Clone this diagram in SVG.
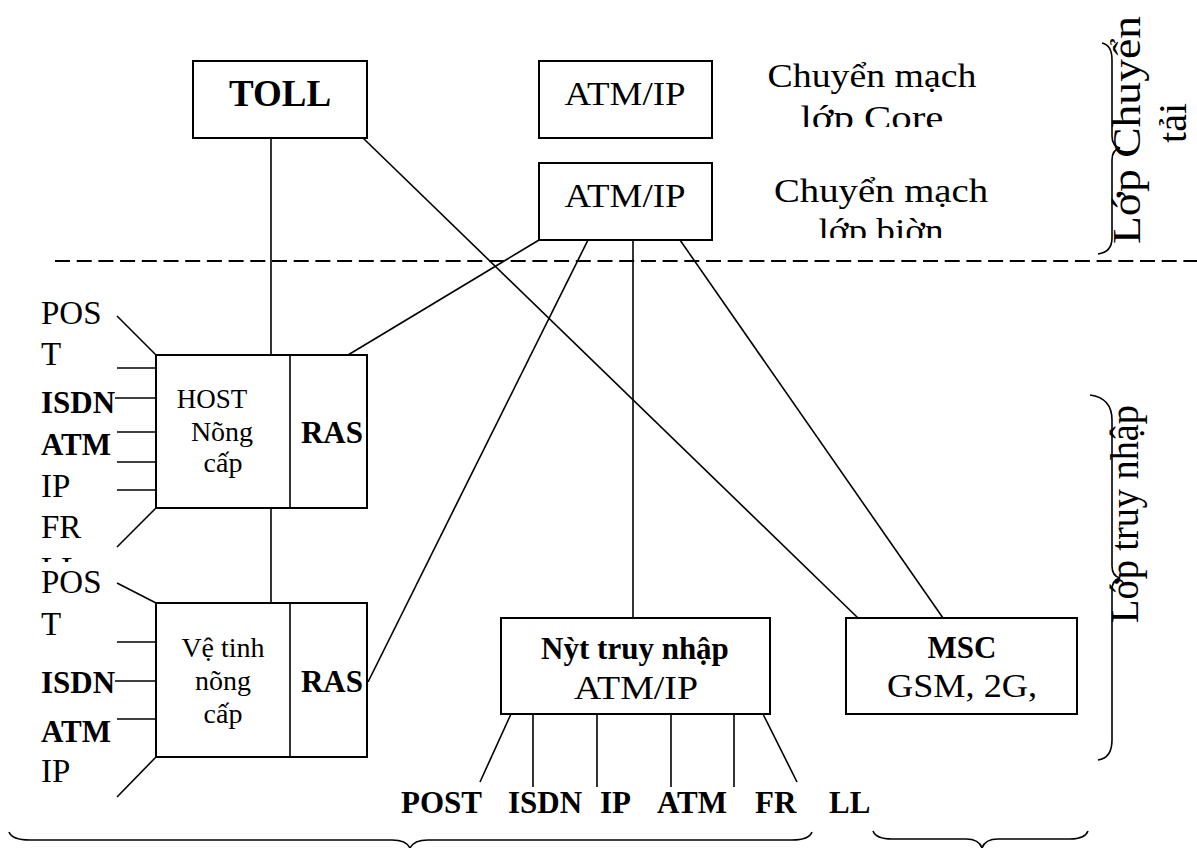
<svg xmlns="http://www.w3.org/2000/svg" width="1197" height="848" viewBox="0 0 1197 848">
<defs>
<style>
text{font-family:"Liberation Serif","Times New Roman",serif;fill:#000}
.r{font-size:33px}
.b{font-size:31px;font-weight:bold}
.m{text-anchor:middle}
.box{fill:#fff;stroke:#000;stroke-width:2}
.ln{stroke:#000;stroke-width:1.6;fill:none}
.br{stroke:#000;stroke-width:1.6;fill:none}
</style>
<clipPath id="cpHost"><rect x="0" y="280" width="150" height="282"/></clipPath>
<clipPath id="cpCore"><rect x="740" y="50" width="300" height="77"/></clipPath>
<clipPath id="cpEdge"><rect x="740" y="160" width="300" height="78"/></clipPath>
</defs>
<rect width="1197" height="848" fill="#fff"/>

<g id="connectors">
<line class="ln" x1="271" y1="138" x2="271" y2="355"/>
<line class="ln" x1="363" y1="138" x2="858" y2="618"/>
<line class="ln" x1="539" y1="240" x2="348" y2="355"/>
<line class="ln" x1="588" y1="240" x2="368" y2="682"/>
<line class="ln" x1="633" y1="240" x2="633" y2="618"/>
<line class="ln" x1="680" y1="240" x2="943" y2="618"/>
<line class="ln" x1="271" y1="508" x2="271" y2="603"/>
<line x1="55" y1="261" x2="1197" y2="261" stroke="#000" stroke-width="2" stroke-dasharray="15 6.7"/>
</g>

<g id="toll">
<rect class="box" x="193" y="61" width="174" height="77"/>
<text class="m" x="280" y="106" style="font-size:37px;font-weight:bold">TOLL</text>
</g>

<g id="core-switch">
<rect class="box" x="539" y="61" width="173" height="77"/>
<text class="r m" x="625" y="105" textLength="121" lengthAdjust="spacingAndGlyphs">ATM/IP</text>
</g>
<g id="core-label" clip-path="url(#cpCore)">
<text class="r m" x="872" y="87" textLength="209" lengthAdjust="spacingAndGlyphs">Chuyển mạch</text>
<text class="r m" x="872" y="129" textLength="143" lengthAdjust="spacingAndGlyphs">lớp Core</text>
</g>

<g id="edge-switch">
<rect class="box" x="539" y="163" width="173" height="77"/>
<text class="r m" x="625" y="207" textLength="121" lengthAdjust="spacingAndGlyphs">ATM/IP</text>
</g>
<g id="edge-label" clip-path="url(#cpEdge)">
<text class="r m" x="881" y="202" textLength="214" lengthAdjust="spacingAndGlyphs">Chuyển mạch</text>
<text class="r m" x="881" y="242" textLength="125" lengthAdjust="spacingAndGlyphs">lớp biờn</text>
</g>

<g id="host">
<rect class="box" x="156" y="355" width="211" height="153"/>
<line class="ln" x1="290" y1="355" x2="290" y2="508"/>
<text x="212" y="408" class="m" style="font-size:27px">HOST</text>
<text x="222" y="441" class="m" style="font-size:28px">Nõng</text>
<text x="223" y="472" class="m" style="font-size:28px">cấp</text>
<text x="332" y="443" class="b m">RAS</text>
<line class="ln" x1="117" y1="316" x2="156" y2="355"/>
<line class="ln" x1="117" y1="368" x2="156" y2="368"/>
<line class="ln" x1="115" y1="398" x2="156" y2="398"/>
<line class="ln" x1="117" y1="432" x2="156" y2="432"/>
<line class="ln" x1="117" y1="462" x2="156" y2="462"/>
<line class="ln" x1="117" y1="490" x2="156" y2="490"/>
<line class="ln" x1="156" y1="508" x2="117" y2="547"/>
<g clip-path="url(#cpHost)">
<text class="r" x="41" y="324">POS</text>
<text class="r" x="41" y="365">T</text>
<text class="b" x="41" y="413">ISDN</text>
<text class="b" x="41" y="455">ATM</text>
<text class="r" x="41" y="497">IP</text>
<text class="r" x="41" y="538">FR</text>
<text class="r" x="41" y="580">LL</text>
</g>
</g>

<g id="satellite">
<rect class="box" x="156" y="603" width="211" height="154"/>
<line class="ln" x1="290" y1="603" x2="290" y2="757"/>
<text x="223" y="657" class="m" style="font-size:28px">Vệ tinh</text>
<text x="223" y="690" class="m" style="font-size:28px">nõng</text>
<text x="223" y="723" class="m" style="font-size:28px">cấp</text>
<text x="332" y="692" class="b m">RAS</text>
<line class="ln" x1="117" y1="583" x2="156" y2="603"/>
<line class="ln" x1="117" y1="642" x2="156" y2="642"/>
<line class="ln" x1="115" y1="681" x2="156" y2="681"/>
<line class="ln" x1="117" y1="719" x2="156" y2="719"/>
<line class="ln" x1="156" y1="757" x2="117" y2="797"/>
<text class="r" x="41" y="593">POS</text>
<text class="r" x="41" y="635">T</text>
<text class="b" x="41" y="693">ISDN</text>
<text class="b" x="41" y="742">ATM</text>
<text class="r" x="41" y="782">IP</text>
</g>

<g id="access-node">
<rect class="box" x="501" y="618" width="269" height="96"/>
<text class="b m" x="635" y="659">Nỳt truy nhập</text>
<text class="r m" x="636" y="699" textLength="124" lengthAdjust="spacingAndGlyphs">ATM/IP</text>
<line class="ln" x1="511" y1="714" x2="480" y2="782"/>
<line class="ln" x1="533" y1="714" x2="533" y2="787"/>
<line class="ln" x1="597" y1="714" x2="597" y2="787"/>
<line class="ln" x1="671" y1="714" x2="671" y2="787"/>
<line class="ln" x1="734" y1="714" x2="734" y2="787"/>
<line class="ln" x1="763" y1="714" x2="797" y2="782"/>
<text class="b" x="401" y="813">POST</text>
<text class="b" x="508" y="813">ISDN</text>
<text class="b" x="600" y="813">IP</text>
<text class="b" x="657" y="813">ATM</text>
<text class="b" x="755" y="813">FR</text>
<text class="b" x="829" y="813">LL</text>
</g>

<g id="msc">
<rect class="box" x="846" y="618" width="231" height="96"/>
<text class="b m" x="962" y="658">MSC</text>
<text class="r m" x="962" y="697" textLength="150" lengthAdjust="spacingAndGlyphs">GSM, 2G,</text>
</g>

<g id="braces">
<path class="br" d="M9,832 Q12,840 30,840 L392,840 Q406,840 410,848 Q414,840 428,840 L792,840 Q809,840 812,832"/>
<path class="br" d="M873,831 Q876,839 892,839 L966,839 Q979,839 982,848 Q985,839 998,839 L1070,839 Q1085,839 1088,831"/>
<path class="br" d="M1102,43 Q1112,45 1112,60 L1112,136 Q1112,146 1120,148 Q1112,150 1112,160 L1112,238 Q1112,252 1098,254"/>
<path class="br" d="M1090,395 Q1112,398 1112,420 L1112,566 Q1112,576 1120,578 Q1112,580 1112,590 L1112,740 Q1112,758 1098,760"/>
</g>

<g id="layer-labels">
<text transform="translate(1140,130) rotate(-90)" class="m" style="font-size:40px"><tspan x="0" y="0" textLength="228" lengthAdjust="spacingAndGlyphs">Lớp Chuyển</tspan><tspan x="7" y="46">tải</tspan></text>
<text transform="translate(1138,514) rotate(-90)" class="m" style="font-size:40px" textLength="218" lengthAdjust="spacingAndGlyphs">Lớp truy nhập</text>
</g>
</svg>
